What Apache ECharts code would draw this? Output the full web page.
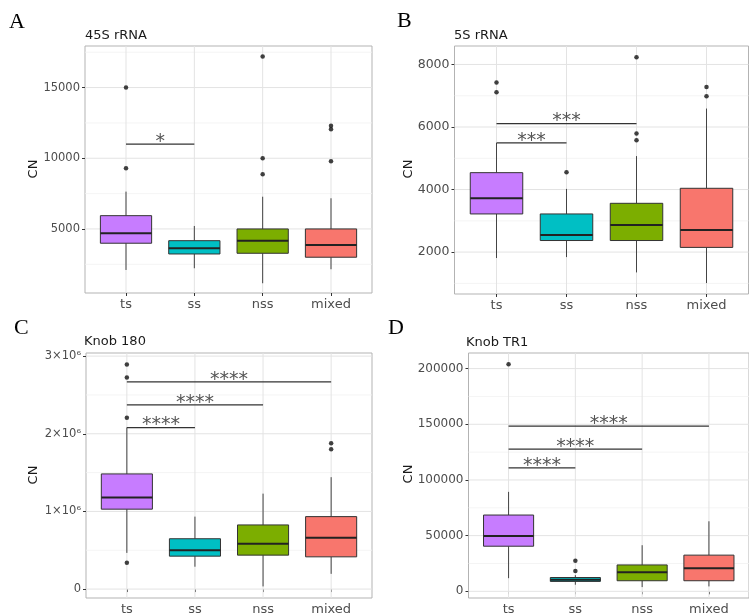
<!DOCTYPE html>
<html><head><meta charset="utf-8">
<script src="https://cdn.jsdelivr.net/npm/echarts@6/dist/echarts.min.js"></script>
<style>html,body{margin:0;padding:0;background:#fff}#c{width:749px;height:616px}</style>
</head><body><div id="c"></div>
<script>
const categories = ['ts', 'ss', 'nss', 'mixed'];
const groupColors = ['#C77CFF', '#00BFC4', '#7CAE00', '#F8766D'];

// box stats per category: [lower whisker, Q1, median, Q3, upper whisker]
const box45S = [[2100, 3990, 4700, 5940, 7640], [2220, 3230, 3640, 4170, 5210], [1160, 3280, 4170, 5000, 7280], [2150, 3000, 3870, 5000, 7170]];
const out45S = [['ts', 15000], ['ts', 9300], ['nss', 17200], ['nss', 10000], ['nss', 8870], ['mixed', 9780], ['mixed', 12050], ['mixed', 12300]];
const sig45S = [['ts', 'ss', 11000, '*']];
const ticks45S = [5000, 10000, 15000];

const box5S = [[1810, 3220, 3720, 4540, 5490], [1840, 2370, 2550, 3220, 4020], [1350, 2370, 2870, 3560, 5070], [1010, 2150, 2710, 4040, 6590]];
const out5S = [['ts', 7420], ['ts', 7110], ['ss', 4550], ['nss', 8230], ['nss', 5790], ['nss', 5580], ['mixed', 7280], ['mixed', 6980]];
const sig5S = [['ts', 'ss', 5490, '***'], ['ts', 'nss', 6110, '***']];
const ticks5S = [2000, 4000, 6000, 8000];

const boxK180 = [[466000, 1029000, 1178000, 1483000, 2080000], [288000, 424000, 500000, 648000, 933000], [34000, 437000, 585000, 826000, 1229000], [196000, 415000, 661000, 933000, 1441000]];
const outK180 = [['ts', 2893000], ['ts', 2724000], ['ts', 2207000], ['ts', 339000], ['mixed', 1877000], ['mixed', 1800000]];
const sigK180 = [['ts', 'ss', 2080000, '****'], ['ts', 'nss', 2372000, '****'], ['ts', 'mixed', 2668000, '****']];
const ticksK180 = [0, 1000000, 2000000, 3000000];

const boxTR1 = [[11800, 40500, 49600, 68500, 89300], [5900, 8900, 10400, 12400, 14500], [3800, 9500, 17100, 23700, 41400], [4400, 9500, 20700, 32500, 62900]];
const outTR1 = [['ts', 203900], ['ss', 27500], ['ss', 18300]];
const sigTR1 = [['ts', 'ss', 110800, '****'], ['ts', 'nss', 127700, '****'], ['ts', 'mixed', 148300, '****']];
const ticksTR1 = [0, 50000, 100000, 150000, 200000];

const panels = [
  {title: '45S rRNA', letter: 'A', box: box45S, out: out45S, sig: sig45S, ticks: ticks45S, min: 470, max: 17940,
   grid: {left: 85, top: 46, width: 287, height: 247}, yfs: 11.5, fmt: v => String(v),
   titlePos: [85, 29], letterPos: [9, 11], cnPos: [34, 169]},
  {title: '5S rRNA', letter: 'B', box: box5S, out: out5S, sig: sig5S, ticks: ticks5S, min: 660, max: 8590,
   grid: {left: 454.5, top: 46, width: 294, height: 248}, yfs: 12.5, fmt: v => String(v),
   titlePos: [454, 29], letterPos: [397, 10], cnPos: [409, 169]},
  {title: 'Knob 180', letter: 'C', box: boxK180, out: outK180, sig: sigK180, ticks: ticksK180, min: -115000, max: 3040000,
   grid: {left: 86, top: 353, width: 286, height: 250}, yfs: 11.5, fmt: v => v === 0 ? '0' : (v / 1e6) + '×10⁶',
   titlePos: [84, 335], letterPos: [14, 317], cnPos: [34, 475]},
  {title: 'Knob TR1', letter: 'D', box: boxTR1, out: outTR1, sig: sigTR1, ticks: ticksTR1, min: -6000, max: 214000,
   grid: {left: 468.5, top: 353, width: 281, height: 248}, yfs: 12, fmt: v => String(v),
   titlePos: [466, 336], letterPos: [388, 317], cnPos: [409, 474]}
];

const catPos = c => categories.indexOf(c) + 1;
const catTicks = categories.map((c, i) => i + 1);
const FONT = 'DejaVu Sans';

const option = {
  animation: false,
  backgroundColor: '#fff',
  title: panels.map(p => ({
    text: p.title, left: p.titlePos[0], top: p.titlePos[1], padding: 0,
    textStyle: {fontFamily: FONT, fontSize: 13, fontWeight: 'normal', color: '#1a1a1a'}
  })),
  grid: panels.map(p => Object.assign({show: true, borderColor: '#b3b3b3', borderWidth: 1, backgroundColor: '#fff'}, p.grid)),
  xAxis: panels.map((p, i) => ({
    gridIndex: i, type: 'value', min: 0.4, max: 4.6,
    axisLine: {show: false}, splitLine: {show: false},
    axisTick: {show: true, customValues: catTicks, length: 3, lineStyle: {color: '#333'}},
    axisLabel: {customValues: catTicks, formatter: v => categories[Math.round(v) - 1], color: '#4d4d4d',
      fontSize: 13, fontFamily: FONT, margin: 5}
  })),
  yAxis: panels.map((p, i) => ({
    gridIndex: i, type: 'value', min: p.min, max: p.max,
    axisLine: {show: false}, splitLine: {show: false},
    axisTick: {show: true, customValues: p.ticks, length: 3, lineStyle: {color: '#333'}},
    axisLabel: {customValues: p.ticks, formatter: p.fmt, color: '#4d4d4d', fontSize: p.yfs, fontFamily: FONT, margin: 5}
  })),
  graphic: [].concat(
    panels.map(p => ({type: 'text', left: p.letterPos[0], top: p.letterPos[1],
      style: {text: p.letter, font: '22px "Liberation Serif"', fill: '#000'}})),
    panels.map(p => ({type: 'text', x: p.cnPos[0], y: p.cnPos[1], rotation: Math.PI / 2,
      style: {text: 'CN', font: '13px "DejaVu Sans"', fill: '#1a1a1a', align: 'center', verticalAlign: 'middle'}}))
  ),
  series: []
};

panels.forEach((p, i) => {
  const minor = [];
  const step = p.ticks[1] - p.ticks[0];
  for (let v = p.ticks[0] - step / 2; v < p.max; v += step) if (v > p.min) minor.push(v);
  const mid = (p.min + p.max) / 2;
  const gridItems = [].concat(
    minor.map(v => [2.5, v, 0, 0]),
    p.ticks.map(v => [2.5, v, 0, 1]),
    catTicks.map(x => [x, mid, 1, 1])
  );
  option.series.push({
    type: 'custom', xAxisIndex: i, yAxisIndex: i, z: 1, silent: true, data: gridItems,
    renderItem: (params, api) => {
      const cs = params.coordSys;
      const pt = api.coord([api.value(0), api.value(1)]);
      const major = api.value(3) === 1;
      const style = {stroke: major ? '#e3e3e3' : '#f1f1f1', lineWidth: major ? 1 : 0.8};
      if (api.value(2) === 0) {
        return {type: 'line', shape: {x1: cs.x, y1: pt[1], x2: cs.x + cs.width, y2: pt[1]}, style};
      }
      return {type: 'line', shape: {x1: pt[0], y1: cs.y, x2: pt[0], y2: cs.y + cs.height}, style};
    }
  });
  option.series.push({
    type: 'custom', xAxisIndex: i, yAxisIndex: i, z: 3, silent: true,
    data: p.box.map((b, k) => [k + 1].concat(b)),
    renderItem: (params, api) => {
      const x = api.value(0);
      const c = k => api.coord([x, api.value(k)]);
      const lo = c(1), q1 = c(2), md = c(3), q3 = c(4), hi = c(5);
      const hw = api.size([0.75, 0])[0] / 2;
      const cx = lo[0];
      const col = groupColors[params.dataIndex];
      return {type: 'group', children: [
        {type: 'line', shape: {x1: cx, y1: q3[1], x2: cx, y2: hi[1]}, style: {stroke: '#444', lineWidth: 1}},
        {type: 'line', shape: {x1: cx, y1: q1[1], x2: cx, y2: lo[1]}, style: {stroke: '#444', lineWidth: 1}},
        {type: 'rect', shape: {x: cx - hw, y: q3[1], width: hw * 2, height: q1[1] - q3[1]},
          style: {fill: col, stroke: '#333', lineWidth: 1}},
        {type: 'line', shape: {x1: cx - hw, y1: md[1], x2: cx + hw, y2: md[1]}, style: {stroke: '#222', lineWidth: 2}}
      ]};
    }
  });
  option.series.push({
    type: 'scatter', xAxisIndex: i, yAxisIndex: i, z: 4, silent: true,
    symbolSize: 4.5, itemStyle: {color: '#111'},
    data: p.out.map(([c, v]) => [catPos(c), v])
  });
  option.series.push({
    type: 'custom', xAxisIndex: i, yAxisIndex: i, z: 5, silent: true,
    data: p.sig.map(([a, b, y]) => [catPos(a), y, catPos(b)]),
    renderItem: (params, api) => {
      const p1 = api.coord([api.value(0), api.value(1)]);
      const p2 = api.coord([api.value(2), api.value(1)]);
      const label = p.sig[params.dataIndex][3];
      return {type: 'group', children: [
        {type: 'line', shape: {x1: p1[0], y1: p1[1], x2: p2[0], y2: p2[1]}, style: {stroke: '#333', lineWidth: 1.3}},
        {type: 'text', style: {text: label, x: (p1[0] + p2[0]) / 2, y: p1[1] - 2, align: 'center', verticalAlign: 'middle',
          font: '19px "DejaVu Sans"', fill: '#555'}}
      ]};
    }
  });
});

const chart = echarts.init(document.getElementById('c'), null, {renderer: 'canvas'});
chart.setOption(option);
</script>
</body></html>
